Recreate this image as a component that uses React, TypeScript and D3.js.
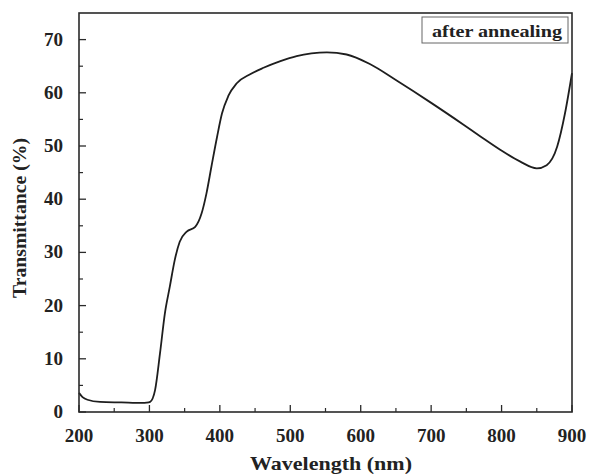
import React from "react";
import * as d3 from "d3";

const wavelengths = [200, 205, 212, 230, 260, 290, 296, 301, 308, 315, 322, 329, 336, 343, 353, 365, 374, 381, 388, 396, 403, 412, 424, 443, 462, 485, 509, 530, 552, 580, 613, 651, 699, 746, 770, 798, 826, 850, 864, 879, 890, 900];
const transmittance = [3.6, 2.8, 2.3, 1.9, 1.8, 1.7, 1.75, 1.9, 4.1, 11, 18.6, 23.6, 28.6, 32, 33.9, 34.8, 37.3, 41.1, 46.1, 51.7, 56.1, 59.4, 61.8, 63.5, 64.7, 65.9, 66.9, 67.4, 67.6, 67.2, 65.4, 62.3, 58.2, 54.0, 51.8, 49.3, 47.1, 45.8, 46.4, 49.9, 56.1, 63.7];
const xTicks = [200, 300, 400, 500, 600, 700, 800, 900];
const xMinor = [250, 350, 450, 550, 650, 750, 850];
const yTicks = [0, 10, 20, 30, 40, 50, 60, 70];
const yMinor = [5, 15, 25, 35, 45, 55, 65];
const legendLabel = "after annealing";
const xTitle = "Wavelength (nm)";
const yTitle = "Transmittance (%)";

const W = 589, H = 476;
const L = 79, R = 572, T = 13, B = 412;
const font = "'Liberation Serif', 'Times New Roman', serif";

export default function App() {
  const x = d3.scaleLinear().domain([200, 900]).range([L, R]);
  const y = d3.scaleLinear().domain([0, 75]).range([B, T]);
  const data = wavelengths.map((w, i) => [w, transmittance[i]] as [number, number]);
  const line = d3.line<[number, number]>().x(d => x(d[0])).y(d => y(d[1])).curve(d3.curveMonotoneX);
  const stroke = "#2a2a2a";
  return (
    <svg width={W} height={H} style={{ position: "absolute", left: 0, top: 0, background: "#fff" }}>
      <rect x={0} y={0} width={W} height={H} fill="#fff" />
      <path d={line(data) || ""} fill="none" stroke="#1e1e1e" strokeWidth={1.8} />
      <rect x={L} y={T} width={R - L} height={B - T} fill="none" stroke={stroke} strokeWidth={1.6} />
      {xTicks.map(t => (
        <g key={"x" + t}>
          <line x1={x(t)} x2={x(t)} y1={B} y2={B - 7} stroke={stroke} strokeWidth={1.3} />
          <text x={x(t)} y={442} textAnchor="middle" fontFamily={font} fontWeight="bold" fontSize={19} fill="#222">{t}</text>
        </g>
      ))}
      {xMinor.map(t => (
        <line key={"xm" + t} x1={x(t)} x2={x(t)} y1={B} y2={B - 4} stroke={stroke} strokeWidth={1.2} />
      ))}
      {yTicks.map(t => (
        <g key={"y" + t}>
          <line x1={L} x2={L + 7} y1={y(t)} y2={y(t)} stroke={stroke} strokeWidth={1.3} />
          <text x={63} y={y(t) + 6} textAnchor="end" fontFamily={font} fontWeight="bold" fontSize={19} fill="#222">{t}</text>
        </g>
      ))}
      {yMinor.map(t => (
        <line key={"ym" + t} x1={L} x2={L + 4} y1={y(t)} y2={y(t)} stroke={stroke} strokeWidth={1.2} />
      ))}
      <rect x={422} y={17} width={146} height={26} fill="#fff" stroke="#666" strokeWidth={1} />
      <text x={432} y={37} fontFamily={font} fontWeight="bold" fontSize={17} fill="#222" textLength={130} lengthAdjust="spacingAndGlyphs">{legendLabel}</text>
      <text x={331} y={470} textAnchor="middle" fontFamily={font} fontWeight="bold" fontSize={19} fill="#222" textLength={162} lengthAdjust="spacingAndGlyphs">{xTitle}</text>
      <text transform={`translate(26,218) rotate(-90)`} textAnchor="middle" fontFamily={font} fontWeight="bold" fontSize={19} fill="#222" textLength={160} lengthAdjust="spacingAndGlyphs">{yTitle}</text>
    </svg>
  );
}
